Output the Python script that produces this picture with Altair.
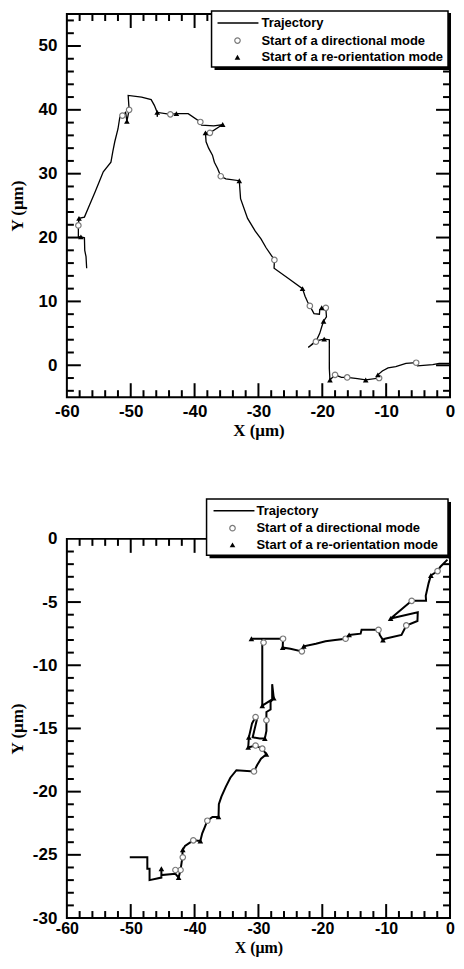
import altair as alt
import pandas as pd

# ---------------- data: top panel ----------------
top_traj_x = [-56.9, -57.0, -57.2, -57.25, -57.8, -58.2, -58.2, -58.1, -57.25, -56.4, -55.6, -54.9,
              -54.3, -53.1, -52.8, -52.5, -52.0, -51.7, -51.3, -50.8, -50.6, -50.25, -50.4, -48.3,
              -46.8, -46.3, -45.85, -45.85, -45.8, -43.8, -42.85, -41.0, -39.1, -38.9, -37.0, -35.6,
              -37.6, -38.3, -38.2, -37.8, -37.2, -36.9, -36.4, -35.9, -35.1, -33.0, -32.8, -31.7,
              -30.5, -29.6, -28.8, -27.5, -27.55, -25.3, -23.1, -22.7, -22.3, -21.95, -21.3, -20.45,
              -20.4, -20.1, -19.45, -19.35, -19.8, -20.1, -20.4, -21.0, -22.2, -21.5, -20.6, -19.7,
              -18.9, -18.9, -18.8, -18.0, -17.0, -16.1, -14.5, -13.2, -11.1, -11.3, -10.6, -9.7,
              -8.5, -6.9, -5.3, -5.1, -2.7, -1.7, -0.1]
top_traj_y = [15.2, 17.0, 18.0, 19.95, 20.1, 20.1, 21.9, 23.0, 23.2, 25.2, 27.1, 28.8,
              30.3, 31.8, 33.5, 35.0, 37.0, 38.9, 39.1, 39.6, 38.2, 40.0, 42.25, 42.0,
              41.6, 40.7, 39.6, 38.9, 39.6, 39.3, 39.4, 39.4, 38.1, 37.6, 37.5, 37.7,
              36.4, 36.4, 35.0, 34.0, 32.9, 31.8, 30.8, 29.6, 29.2, 28.9, 26.1, 23.0,
              21.0, 19.8, 18.4, 16.5, 15.2, 13.6, 12.0, 10.8, 9.9, 9.3, 8.1, 8.0,
              8.7, 9.0, 9.0, 7.6, 6.9, 6.0, 5.0, 3.7, 2.8, 3.4, 3.9, 4.1,
              4.0, -0.5, -2.3, -1.5, -1.9, -1.9, -2.1, -2.3, -2.0, -1.5, -0.9, -0.4,
              -0.2, 0.3, 0.4, -0.1, 0.1, 0.3, 0.3]
top_dir_x = [-58.2, -51.3, -50.25, -43.8, -39.1, -37.6, -35.9, -27.5, -21.95, -19.45, -21.0,
             -18.0, -16.1, -11.1, -5.3]
top_dir_y = [21.9, 39.1, 40.0, 39.3, 38.1, 36.4, 29.6, 16.5, 9.3, 9.0, 3.7,
             -1.5, -1.9, -2.0, 0.4]
top_reo_x = [-57.8, -58.1, -50.6, -45.85, -42.85, -35.6, -38.3, -33.0, -23.1, -20.1, -19.8,
             -19.7, -18.8, -13.2, -11.3]
top_reo_y = [20.1, 23.0, 38.2, 39.6, 39.4, 37.7, 36.4, 28.9, 12.0, 9.0, 6.9,
             4.1, -2.3, -2.3, -1.5]

# ---------------- data: bottom panel ----------------
bot_traj_x = [-50.15, -47.4, -47.4, -47.05, -47.05, -45.2, -45.2, -45.2, -43.0, -42.5, -42.2,
              -42.0, -41.85, -41.9, -41.85, -41.5, -40.2, -39.1, -38.8, -38.4, -38.0, -37.2,
              -36.25, -36.2, -35.8, -35.1, -34.4, -33.45, -30.7, -30.2, -29.6, -28.75, -29.4,
              -30.45, -31.6, -31.5, -31.0, -30.45, -30.2, -30.9, -29.8, -29.0, -28.75, -28.75,
              -28.75, -28.1, -28.1, -27.6, -27.85, -27.85, -29.4, -29.4, -29.4, -31.1, -26.15,
              -26.2, -25.0, -23.2, -22.9, -21.0, -19.5, -18.0, -16.35, -15.8, -14.0, -13.85,
              -11.2, -11.0, -10.5, -10.2, -7.6, -6.85, -5.1, -5.05, -9.3, -6.0, -3.75, -3.8,
              -3.35, -3.0, -1.95, -1.5, -0.4]
bot_traj_y = [-25.2, -25.2, -26.1, -26.1, -27.0, -26.8, -26.1, -26.6, -26.5, -26.8, -26.2,
              -25.5, -25.2, -24.9, -24.6, -24.3, -23.85, -23.9, -23.3, -22.8, -22.3, -22.0,
              -22.0, -21.0, -20.4, -19.6, -18.9, -18.3, -18.4, -17.9, -17.4, -17.05, -16.6,
              -16.35, -16.5, -15.7, -14.6, -14.1, -14.2, -15.7, -15.8, -15.8, -15.2, -14.35,
              -13.7, -13.5, -12.9, -12.6, -11.5, -12.7, -13.2, -8.2, -7.9, -7.9, -7.9,
              -8.6, -8.7, -8.9, -8.5, -8.3, -8.1, -8.0, -7.9, -7.6, -7.5, -7.2,
              -7.2, -7.6, -8.0, -7.9, -7.6, -6.85, -6.5, -5.8, -6.3, -4.9, -4.9, -4.5,
              -3.5, -2.9, -2.55, -2.2, -1.64]
bot_dir_x = [-1.95, -6.0, -6.85, -11.2, -16.35, -23.2, -26.15, -29.2, -30.45, -28.75, -30.45,
             -29.4, -30.7, -38.0, -40.2, -41.85, -42.2, -43.0]
bot_dir_y = [-2.55, -4.9, -6.85, -7.2, -7.9, -8.9, -7.9, -8.2, -14.1, -14.35, -16.35,
             -16.6, -18.4, -22.3, -23.85, -25.2, -26.2, -26.2]
bot_reo_x = [-3.0, -9.3, -10.5, -15.8, -22.9, -26.2, -31.1, -29.4, -27.6, -31.5, -31.6,
             -29.0, -28.75, -36.25, -39.1, -41.85, -42.5, -45.2]
bot_reo_y = [-2.9, -6.3, -8.0, -7.6, -8.5, -8.6, -7.9, -13.2, -12.6, -15.7, -16.5,
             -15.8, -17.05, -22.0, -23.9, -24.6, -26.8, -26.1]

x_labels = [-60, -50, -40, -30, -20, -10, 0]
top_y_labels = [0, 10, 20, 30, 40, 50]
bot_y_labels = [-30, -25, -20, -15, -10, -5, 0]
legend_labels = ["Trajectory", "Start of a directional mode", "Start of a re-orientation mode"]

W = 384
SANS = "Liberation Sans"
SERIF = "Liberation Serif"
LABEL_EXPR = "'' + datum.value"


def panel(tx, ty, dx, dy, rx, ry, ydom, ylabels, ymajor, yminor, H, lw, leg, lpad, tpad, xfs):
    xs = alt.Scale(domain=[-60, 0], nice=False, zero=False)
    ys = alt.Scale(domain=ydom, nice=False, zero=False)
    xax = alt.Axis(values=x_labels, title="X (μm)", ticks=False, tickSize=0, domain=False,
                   grid=False, labelFont=SANS, labelFontSize=xfs, labelFontWeight="bold",
                   labelColor="black", labelPadding=lpad, labelFlush=False, labelOverlap=False,
                   labelExpr=LABEL_EXPR,
                   titleFont=SERIF, titleFontSize=xfs, titleFontWeight="bold",
                   titleColor="black", titlePadding=tpad)
    yax = alt.Axis(values=ylabels, title="Y (μm)", ticks=False, tickSize=0, domain=False,
                   grid=False, labelFont=SANS, labelFontSize=17, labelFontWeight="bold",
                   labelColor="black", labelPadding=10, labelFlush=False, labelOverlap=False,
                   labelExpr=LABEL_EXPR,
                   titleFont=SERIF, titleFontSize=17, titleFontWeight="bold",
                   titleColor="black", titleX=-40, titleY=H / 2)
    X = lambda f: alt.X(f, scale=xs, axis=xax)
    Y = lambda f: alt.Y(f, scale=ys, axis=yax)

    traj = pd.DataFrame({"x": tx, "y": ty, "i": list(range(len(tx)))})
    ddf = pd.DataFrame({"x": dx, "y": dy})
    rdf = pd.DataFrame({"x": rx, "y": ry})

    layers = []
    # inward ticks on all four sides
    xmajor = [-50, -40, -30, -20, -10]
    xminor = [v for v in range(-58, 0, 2) if v % 10 != 0]
    for vals, L in ((xmajor, 14), (xminor, 7)):
        d = pd.DataFrame({"v": vals})
        layers.append(alt.Chart(d).mark_rule(color="black", strokeWidth=2).encode(
            x=X("v:Q"), y=alt.value(H), y2=alt.value(H - L)))
        layers.append(alt.Chart(d).mark_rule(color="black", strokeWidth=2).encode(
            x=X("v:Q"), y=alt.value(0), y2=alt.value(L)))
    for vals, L in ((ymajor, 14), (yminor, 7)):
        d = pd.DataFrame({"v": vals})
        layers.append(alt.Chart(d).mark_rule(color="black", strokeWidth=2).encode(
            y=Y("v:Q"), x=alt.value(0), x2=alt.value(L)))
        layers.append(alt.Chart(d).mark_rule(color="black", strokeWidth=2).encode(
            y=Y("v:Q"), x=alt.value(W), x2=alt.value(W - L)))

    layers.append(alt.Chart(traj).mark_line(color="black", strokeWidth=lw).encode(
        x=X("x:Q"), y=Y("y:Q"), order="i:Q"))
    layers.append(alt.Chart(ddf).mark_point(shape="circle", filled=True, fill="white",
                                            stroke="#7a7a7a", strokeWidth=1.2, size=30,
                                            opacity=1).encode(x=X("x:Q"), y=Y("y:Q")))
    layers.append(alt.Chart(rdf).mark_point(shape="triangle-up", filled=True, color="black",
                                            size=32, opacity=1).encode(x=X("x:Q"), y=Y("y:Q")))

    # legend box with drop shadow
    one = pd.DataFrame({"k": [0]})
    bx0, bx1, by0, by1, lx0, lx1, sx, txx, rows = leg
    layers.append(alt.Chart(one).mark_rect(fill="white", stroke="black", strokeWidth=1.5).encode(
        x=alt.value(bx0), x2=alt.value(bx1), y=alt.value(by0), y2=alt.value(by1)))
    layers.append(alt.Chart(one).mark_rule(color="black", strokeWidth=3).encode(
        x=alt.value(bx0 + 3), x2=alt.value(bx1 + 3), y=alt.value(by1 + 1.5)))
    layers.append(alt.Chart(one).mark_rule(color="black", strokeWidth=3).encode(
        x=alt.value(bx1 + 1.5), y=alt.value(by0 + 3), y2=alt.value(by1 + 3)))
    layers.append(alt.Chart(one).mark_rule(color="black", strokeWidth=1.5).encode(
        x=alt.value(lx0), x2=alt.value(lx1), y=alt.value(rows[0])))
    layers.append(alt.Chart(one).mark_point(shape="circle", filled=True, fill="white",
                                            stroke="#7a7a7a", strokeWidth=1.2, size=30,
                                            opacity=1).encode(x=alt.value(sx), y=alt.value(rows[1])))
    layers.append(alt.Chart(one).mark_point(shape="triangle-up", filled=True, color="black",
                                            size=32, opacity=1).encode(x=alt.value(sx), y=alt.value(rows[2])))
    for lab, r in zip(legend_labels, rows):
        layers.append(alt.Chart(one).mark_text(align="left", baseline="middle", font=SANS,
                                               fontSize=13, fontWeight="bold", color="black").encode(
            x=alt.value(txx), y=alt.value(r), text=alt.value(lab)))

    return alt.layer(*layers).properties(width=W, height=H)


top_ymajor = [0, 10, 20, 30, 40, 50]
top_yminor = [v for v in range(-4, 55, 2) if v % 10 != 0]
bot_ymajor = [-25, -20, -15, -10, -5]
bot_yminor = [v for v in range(-29, 0) if v % 5 != 0]

top = panel(top_traj_x, top_traj_y, top_dir_x, top_dir_y, top_reo_x, top_reo_y,
            [-5, 55], top_y_labels, top_ymajor, top_yminor, 384, 1.3,
            (145, 382, -3, 53, 151, 192, 171, 195, [9, 26.6, 43.3]), 6, 3, 17)
bottom = panel(bot_traj_x, bot_traj_y, bot_dir_x, bot_dir_y, bot_reo_x, bot_reo_y,
               [-30, 0], bot_y_labels, bot_ymajor, bot_yminor, 380, 2.0,
               (140, 382, -40, 16.5, 147, 188, 166, 190, [-28.3, -10.7, 6]), 3, 3, 16)

chart = alt.vconcat(top, bottom, spacing=142, bounds="flush").properties(
    padding={"left": 0, "top": 0, "right": 0, "bottom": 0}
).configure_view(stroke="black", strokeWidth=2, fill="white")

chart.save("out.html", embed_options={"renderer": "svg", "actions": False})
